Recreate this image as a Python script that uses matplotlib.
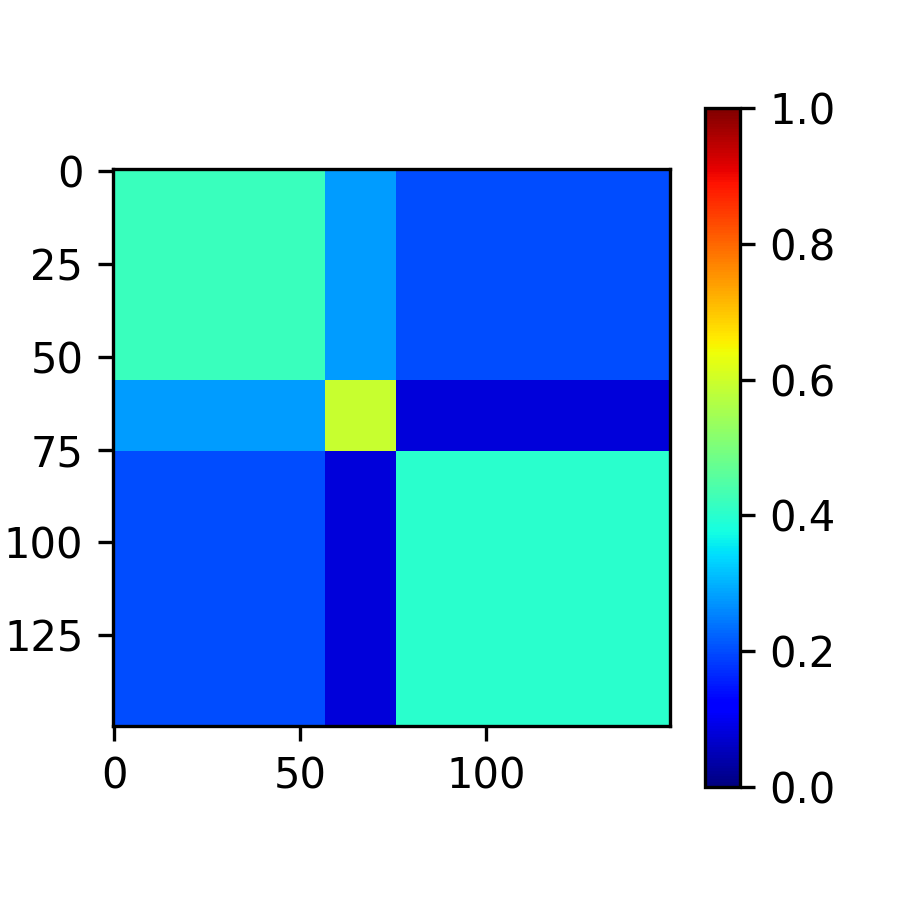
import numpy as np
import matplotlib
matplotlib.use("Agg")
import matplotlib.pyplot as plt

# cluster sizes along both axes (150 samples)
block_sizes = [57, 19, 74]

# mean similarity between clusters (symmetric)
block_values = [
    [0.42, 0.28, 0.20],
    [0.28, 0.59, 0.08],
    [0.20, 0.08, 0.40],
]


def build_matrix(sizes, values):
    rows = []
    for i, si in enumerate(sizes):
        row = [np.full((si, sj), values[i][j]) for j, sj in enumerate(sizes)]
        rows.append(np.hstack(row))
    return np.vstack(rows)


mat = build_matrix(block_sizes, block_values)

fig = plt.figure(figsize=(3, 3), dpi=300)
ax = fig.add_axes([0.125, 0.193, 0.619, 0.619])
im = ax.imshow(mat, cmap="jet", vmin=0, vmax=1, interpolation="nearest")
ax.set_xticks([0, 50, 100])
ax.set_yticks([0, 25, 50, 75, 100, 125])

cax = fig.add_axes([0.783, 0.1256, 0.039, 0.7544])
fig.colorbar(im, cax=cax, ticks=[0.0, 0.2, 0.4, 0.6, 0.8, 1.0])

fig.savefig("out.png", dpi=300)
